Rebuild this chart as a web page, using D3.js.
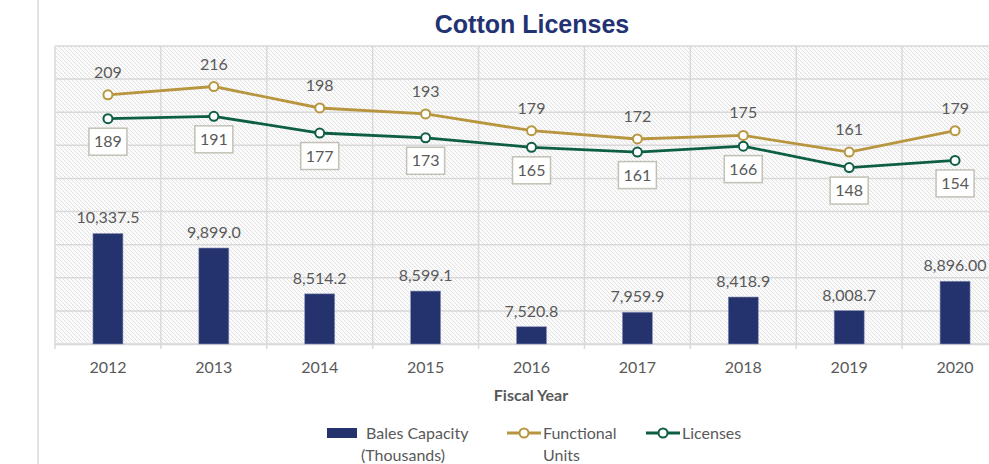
<!DOCTYPE html>
<html>
<head>
<meta charset="utf-8">
<script src="https://cdn.jsdelivr.net/npm/d3@7"></script>
<style>
  body { margin: 0; background: #fff; }
  text { font-family: Lato, "Open Sans", sans-serif; }
</style>
</head>
<body>
<div id="chart"></div>
<script>
// chart data
var years = ["2012", "2013", "2014", "2015", "2016", "2017", "2018", "2019", "2020"];
var balesCapacity = [10337.5, 9899.0, 8514.2, 8599.1, 7520.8, 7959.9, 8418.9, 8008.7, 8896.0];
var balesLabels = ["10,337.5", "9,899.0", "8,514.2", "8,599.1", "7,520.8", "7,959.9", "8,418.9", "8,008.7", "8,896.00"];
var functionalUnits = [209, 216, 198, 193, 179, 172, 175, 161, 179];
var licenses = [189, 191, 177, 173, 165, 161, 166, 148, 154];
var barTicks = d3.range(7000, 16001, 1000);

var svgWidth = 989;
var svgHeight = 464;

// plot area (runs past the right edge like the original)
var plot = { left: 55, top: 46, bottom: 344, right: 1008 };

var labelSize = "16px";

var colors = {
    bar: "#24326e",
    functional: "#b8963f",
    licenses: "#0d5e43",
    text: "#595959",
    grid: "#d9d9d9"
};

var svg = d3.select("#chart")
  .append("svg")
  .attr("width", svgWidth)
  .attr("height", svgHeight);

// hatch pattern for the plot background
var pattern = svg.append("defs").append("pattern")
    .attr("id", "hatch")
    .attr("patternUnits", "userSpaceOnUse")
    .attr("width", 4)
    .attr("height", 4);
pattern.append("rect").attr("width", 4).attr("height", 4).attr("fill", "#fbfbfb");
pattern.append("path")
    .attr("d", "M0,0 L4,4 M-1,3 L1,5 M3,-1 L5,1")
    .attr("stroke", "#e2e2e2")
    .attr("stroke-width", 1);

// left border of the chart container
svg.append("line")
    .attr("x1", 38).attr("x2", 38)
    .attr("y1", 0).attr("y2", svgHeight)
    .attr("stroke", "#e4e4e4")
    .attr("stroke-width", 2);

//scales
var xScale = d3.scaleBand()
    .domain(years)
    .range([plot.left, plot.right])
    .padding(0);

var yBar = d3.scaleLinear()
    .domain([7000, 16000])
    .range([plot.bottom, plot.top]);

var yLine = d3.scaleLinear()
    .domain([0, 250])
    .range([plot.bottom, plot.top]);

// background
svg.append("rect")
    .attr("x", plot.left)
    .attr("y", plot.top)
    .attr("width", plot.right - plot.left)
    .attr("height", plot.bottom - plot.top)
    .attr("fill", "url(#hatch)");

// horizontal gridlines
svg.append("g")
    .selectAll("line")
    .data(barTicks)
    .enter()
    .append("line")
    .attr("x1", plot.left)
    .attr("x2", plot.right)
    .attr("y1", d => yBar(d))
    .attr("y2", d => yBar(d))
    .attr("stroke", colors.grid)
    .attr("stroke-width", 1.5);

// vertical gridlines at category edges
svg.append("g")
    .selectAll("line")
    .data(years)
    .enter()
    .append("line")
    .attr("x1", d => xScale(d))
    .attr("x2", d => xScale(d))
    .attr("y1", plot.top)
    .attr("y2", plot.bottom + 5)
    .attr("stroke", colors.grid)
    .attr("stroke-width", 1.5);

// x axis
var xAxis = svg.append("g")
    .attr("transform", `translate(0, ${plot.bottom})`)
    .call(d3.axisBottom(xScale).tickSize(0).tickPadding(18));
xAxis.select(".domain").attr("stroke", colors.grid).attr("stroke-width", 1.5);
xAxis.selectAll("text")
    .attr("fill", colors.text)
    .attr("font-size", labelSize)
    .style("font-family", "Lato, sans-serif");

svg.append("text")
    .attr("x", 531)
    .attr("y", 401)
    .attr("text-anchor", "middle")
    .attr("font-size", labelSize)
    .attr("font-weight", "bold")
    .attr("fill", colors.text)
    .text("Fiscal Year");

// title
svg.append("text")
    .attr("x", 532)
    .attr("y", 33)
    .attr("text-anchor", "middle")
    .attr("font-size", "25px")
    .attr("font-weight", "bold")
    .attr("fill", "#233272")
    .style("font-family", "'Liberation Sans', Arial, sans-serif")
    .text("Cotton Licenses");

// bars
var barWidth = 30;
svg.append("g")
    .selectAll("rect")
    .data(balesCapacity)
    .enter()
    .append("rect")
    .attr("x", (d, i) => xScale(years[i]) + xScale.bandwidth() / 2 - barWidth / 2)
    .attr("y", d => yBar(d))
    .attr("width", barWidth)
    .attr("height", d => plot.bottom - yBar(d))
    .attr("fill", colors.bar)
    .attr("stroke", "#8a93b8")
    .attr("stroke-width", 0.6);

svg.append("g")
    .selectAll("text")
    .data(balesCapacity)
    .enter()
    .append("text")
    .attr("x", (d, i) => xScale(years[i]) + xScale.bandwidth() / 2)
    .attr("y", d => yBar(d) - 10)
    .attr("text-anchor", "middle")
    .attr("font-size", labelSize)
    .attr("fill", colors.text)
    .text((d, i) => balesLabels[i]);

// lines
function drawSeries(values, color) {
    var line = d3.line()
        .x((d, i) => xScale(years[i]) + xScale.bandwidth() / 2)
        .y(d => yLine(d));

    svg.append("path")
        .datum(values)
        .attr("d", line)
        .attr("fill", "none")
        .attr("stroke", color)
        .attr("stroke-width", 2.8);

    svg.append("g")
        .selectAll("circle")
        .data(values)
        .enter()
        .append("circle")
        .attr("cx", (d, i) => xScale(years[i]) + xScale.bandwidth() / 2)
        .attr("cy", d => yLine(d))
        .attr("r", 4.5)
        .attr("fill", "#fff")
        .attr("stroke", color)
        .attr("stroke-width", 2);
}

drawSeries(functionalUnits, colors.functional);
drawSeries(licenses, colors.licenses);

// functional units labels (above)
svg.append("g")
    .selectAll("text")
    .data(functionalUnits)
    .enter()
    .append("text")
    .attr("x", (d, i) => xScale(years[i]) + xScale.bandwidth() / 2)
    .attr("y", d => yLine(d) - 17)
    .attr("text-anchor", "middle")
    .attr("font-size", labelSize)
    .attr("fill", colors.text)
    .text(d => d);

// licenses labels (boxed, below)
var licGroup = svg.append("g")
    .selectAll("g")
    .data(licenses)
    .enter()
    .append("g")
    .attr("transform", (d, i) => `translate(${xScale(years[i]) + xScale.bandwidth() / 2}, ${yLine(d) + 23})`);

licGroup.append("rect")
    .attr("x", -19)
    .attr("y", -13.5)
    .attr("width", 38)
    .attr("height", 27)
    .attr("fill", "#fff")
    .attr("stroke", "#c3c0b4")
    .attr("stroke-width", 1.5);

licGroup.append("text")
    .attr("y", 5.5)
    .attr("text-anchor", "middle")
    .attr("font-size", labelSize)
    .attr("fill", colors.text)
    .text(d => d);

// legend
var legend = svg.append("g").attr("font-size", labelSize).attr("fill", colors.text);

legend.append("rect")
    .attr("x", 327).attr("y", 428)
    .attr("width", 30).attr("height", 10)
    .attr("fill", colors.bar);
legend.append("text").attr("x", 366).attr("y", 439).text("Bales Capacity");
legend.append("text").attr("x", 361).attr("y", 461).text("(Thousands)");

var legendLines = [
    { x: 507, color: colors.functional, label: ["Functional", "Units"] },
    { x: 646, color: colors.licenses, label: ["Licenses"] }
];

legendLines.forEach(function(item) {
    legend.append("line")
        .attr("x1", item.x).attr("x2", item.x + 34)
        .attr("y1", 433).attr("y2", 433)
        .attr("stroke", item.color)
        .attr("stroke-width", 2.8);
    legend.append("circle")
        .attr("cx", item.x + 17).attr("cy", 433)
        .attr("r", 4.5)
        .attr("fill", "#fff")
        .attr("stroke", item.color)
        .attr("stroke-width", 2);
    item.label.forEach(function(t, j) {
        legend.append("text")
            .attr("x", item.x + 36)
            .attr("y", 439 + j * 22)
            .text(t);
    });
});
</script>
</body>
</html>
